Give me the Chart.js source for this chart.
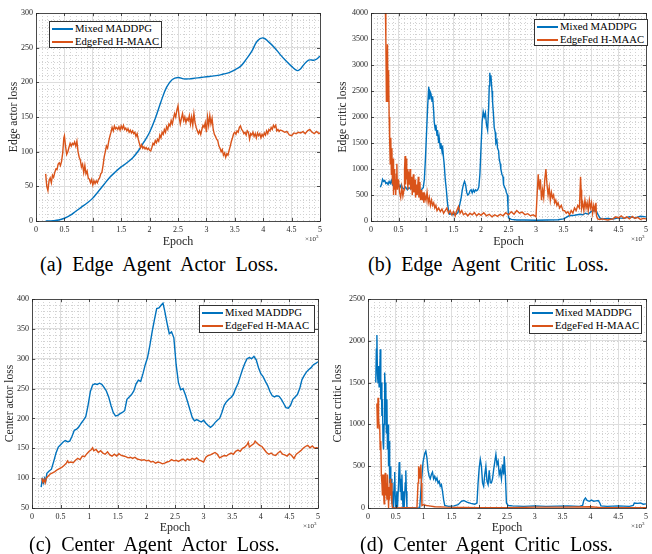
<!DOCTYPE html>
<html>
<head>
<meta charset="utf-8">
<script src="https://cdn.jsdelivr.net/npm/chart.js@4.4.1/dist/chart.umd.min.js"></script>
<style>
body { margin: 0; background: #fff; width: 652px; height: 554px; position: relative; overflow: hidden; font-family: "Liberation Serif", "DejaVu Serif", serif; }
canvas { position: absolute; }
.legend { position: absolute; background: #fff; border: 1px solid #333; font-family: "Liberation Serif", serif; font-size: 10.7px; color: #000; box-sizing: border-box; }
.legend div { height: 13px; line-height: 13px; white-space: nowrap; display: flex; align-items: center; }
.legend i { display: inline-block; width: 21px; height: 2px; margin: 0 2px 0 2px; }
.cap { position: absolute; font-family: "Liberation Serif", serif; font-size: 20px; line-height: 20px; word-spacing: 5px; white-space: nowrap; color: #000; }
</style>
</head>
<body>
<canvas id="chartA" width="326" height="250" style="left:0;top:0"></canvas>
<canvas id="chartB" width="326" height="250" style="left:326px;top:0"></canvas>
<canvas id="chartC" width="326" height="250" style="left:0;top:286px"></canvas>
<canvas id="chartD" width="326" height="250" style="left:326px;top:286px"></canvas>

<div class="legend" style="left:49px;top:21px;width:113px;height:27px">
  <div><i style="background:#0072BD"></i>Mixed MADDPG</div>
  <div><i style="background:#D95319"></i>EdgeFed H-MAAC</div>
</div>
<div class="legend" style="left:534px;top:19px;width:114px;height:27px">
  <div><i style="background:#0072BD"></i>Mixed MADDPG</div>
  <div><i style="background:#D95319"></i>EdgeFed H-MAAC</div>
</div>
<div class="legend" style="left:199px;top:305px;width:116px;height:28px">
  <div><i style="background:#0072BD"></i>Mixed MADDPG</div>
  <div><i style="background:#D95319"></i>EdgeFed H-MAAC</div>
</div>
<div class="legend" style="left:529px;top:305px;width:113px;height:29px">
  <div><i style="background:#0072BD"></i>Mixed MADDPG</div>
  <div><i style="background:#D95319"></i>EdgeFed H-MAAC</div>
</div>

<div class="cap" style="left:40px;top:254px">(a) Edge Agent Actor Loss.</div>
<div class="cap" style="left:368px;top:254px">(b) Edge Agent Critic Loss.</div>
<div class="cap" style="left:29px;top:534px">(c) Center Agent Actor Loss.</div>
<div class="cap" style="left:360px;top:534px">(d) Center Agent Critic Loss.</div>

<script>
const seriesNames = ['Mixed MADDPG', 'EdgeFed H-MAAC'];
const seriesColors = ['#0072BD', '#D95319'];

const epochTicks = [0, 0.5, 1, 1.5, 2, 2.5, 3, 3.5, 4, 4.5, 5];
const edgeActorTicks = [0, 50, 100, 150, 200, 250, 300];
const edgeCriticTicks = [0, 500, 1000, 1500, 2000, 2500, 3000, 3500, 4000];
const centerActorTicks = [50, 100, 150, 200, 250, 300, 350, 400];
const centerCriticTicks = [0, 500, 1000, 1500, 2000, 2500];

// epoch (x10^3), loss
const edgeActorMixed = [[0.17,0],[0.3,0.5],[0.4,1.5],[0.5,4],[0.6,8],[0.7,14],[0.8,20],[0.9,26],[1.0,33],[1.1,43],[1.2,53],[1.3,63],[1.4,71],[1.5,78],[1.6,84],[1.7,91],[1.8,101],[1.9,114],[2.0,128],[2.1,148],[2.2,172],[2.3,193],[2.4,204],[2.5,207],[2.6,205],[2.7,205],[2.8,206],[2.9,207],[3.0,208],[3.1,209],[3.2,210],[3.3,212],[3.4,214],[3.5,218],[3.6,223],[3.7,233],[3.8,245],[3.9,260],[4.0,264],[4.1,258],[4.2,250],[4.3,240],[4.4,231],[4.5,223],[4.6,217],[4.65,219],[4.7,224],[4.8,232],[4.9,232],[4.95,234],[5.0,238]];

const edgeActorFed = [[0.17,68],[0.19,50],[0.21,44],[0.23,58],[0.25,62],[0.27,55],[0.29,66],[0.31,63],[0.33,70],[0.35,75],[0.37,74],[0.39,82],[0.41,84],[0.43,80],[0.45,86],[0.47,98],[0.49,120],[0.5,123],[0.52,108],[0.54,96],[0.56,100],[0.58,106],[0.6,112],[0.62,108],[0.64,112],[0.66,110],[0.68,114],[0.7,108],[0.72,115],[0.74,100],[0.76,92],[0.78,88],[0.8,78],[0.82,82],[0.84,70],[0.86,80],[0.88,68],[0.9,72],[0.92,62],[0.94,60],[0.96,55],[0.98,60],[1.0,52],[1.02,58],[1.04,54],[1.06,58],[1.08,55],[1.1,60],[1.12,62],[1.14,68],[1.16,70],[1.18,80],[1.2,92],[1.22,100],[1.24,108],[1.26,105],[1.28,115],[1.3,122],[1.32,128],[1.34,135],[1.36,130],[1.38,137],[1.4,133],[1.42,135],[1.44,132],[1.46,136],[1.48,131],[1.5,137],[1.52,133],[1.54,138],[1.56,132],[1.58,134],[1.6,130],[1.62,133],[1.64,128],[1.66,131],[1.68,127],[1.7,130],[1.72,126],[1.74,128],[1.76,122],[1.78,126],[1.8,118],[1.82,112],[1.84,106],[1.86,110],[1.88,105],[1.9,107],[1.92,104],[1.94,106],[1.96,103],[1.98,105],[2.0,102],[2.02,101],[2.04,106],[2.06,112],[2.08,110],[2.1,116],[2.12,113],[2.14,118],[2.16,115],[2.18,124],[2.2,120],[2.22,128],[2.24,125],[2.26,132],[2.28,128],[2.3,136],[2.32,132],[2.34,140],[2.36,137],[2.38,145],[2.4,140],[2.42,148],[2.44,155],[2.46,150],[2.48,160],[2.5,166],[2.52,150],[2.54,140],[2.56,148],[2.58,155],[2.6,145],[2.62,150],[2.64,142],[2.66,148],[2.68,145],[2.7,152],[2.72,140],[2.74,150],[2.76,138],[2.78,155],[2.8,142],[2.82,135],[2.84,130],[2.86,126],[2.88,130],[2.9,125],[2.92,132],[2.94,138],[2.96,135],[2.98,142],[3.0,128],[3.02,150],[3.04,138],[3.06,152],[3.08,140],[3.1,148],[3.12,132],[3.14,125],[3.16,122],[3.18,118],[3.2,116],[3.22,108],[3.24,105],[3.26,100],[3.28,103],[3.3,95],[3.32,98],[3.34,92],[3.36,97],[3.38,95],[3.4,102],[3.42,108],[3.44,115],[3.46,120],[3.48,126],[3.5,128],[3.52,125],[3.54,130],[3.56,128],[3.58,135],[3.6,137],[3.62,132],[3.64,130],[3.66,126],[3.68,128],[3.7,124],[3.72,130],[3.74,128],[3.76,118],[3.78,126],[3.8,124],[3.82,128],[3.84,122],[3.86,126],[3.88,120],[3.9,127],[3.92,123],[3.94,126],[3.96,120],[3.98,125],[4.0,122],[4.02,127],[4.04,124],[4.06,130],[4.08,126],[4.1,132],[4.12,130],[4.14,135],[4.16,132],[4.18,138],[4.2,135],[4.22,138],[4.24,130],[4.26,132],[4.28,129],[4.3,131],[4.34,130],[4.38,128],[4.42,129],[4.46,124],[4.5,123],[4.54,127],[4.58,126],[4.62,128],[4.66,127],[4.7,129],[4.74,126],[4.78,130],[4.82,132],[4.86,128],[4.9,126],[4.94,129],[4.98,126],[5.0,127]];

const edgeCriticMixed = [[0.17,650],[0.19,700],[0.21,800],[0.23,760],[0.25,780],[0.27,720],[0.29,740],[0.31,700],[0.33,760],[0.35,720],[0.37,780],[0.39,700],[0.41,740],[0.43,690],[0.45,760],[0.47,700],[0.49,720],[0.51,680],[0.53,650],[0.55,700],[0.57,640],[0.6,620],[0.63,650],[0.66,600],[0.69,640],[0.72,620],[0.75,660],[0.78,600],[0.81,620],[0.84,580],[0.87,600],[0.9,560],[0.93,620],[0.95,640],[0.97,800],[0.99,1200],[1.01,1700],[1.03,2200],[1.05,2580],[1.06,2350],[1.07,2500],[1.09,2450],[1.11,2300],[1.12,2400],[1.14,2100],[1.15,1900],[1.17,1750],[1.18,1850],[1.2,1650],[1.21,1750],[1.23,1500],[1.24,1600],[1.26,1400],[1.27,1500],[1.29,1350],[1.3,1450],[1.32,1200],[1.33,1100],[1.35,800],[1.37,600],[1.39,350],[1.41,200],[1.43,130],[1.46,140],[1.49,120],[1.52,150],[1.55,130],[1.58,160],[1.6,250],[1.62,350],[1.64,450],[1.66,600],[1.68,700],[1.7,760],[1.72,700],[1.74,550],[1.76,500],[1.78,520],[1.8,580],[1.82,600],[1.84,540],[1.86,600],[1.88,560],[1.9,600],[1.92,580],[1.94,600],[1.96,650],[1.98,900],[2.0,1400],[2.02,1900],[2.04,2100],[2.06,2000],[2.08,2080],[2.1,1850],[2.12,1750],[2.14,2200],[2.15,2600],[2.16,2850],[2.17,2700],[2.18,2800],[2.2,2500],[2.21,2300],[2.23,2000],[2.24,1800],[2.26,1700],[2.27,1500],[2.29,1550],[2.3,1400],[2.32,1350],[2.33,1200],[2.35,1100],[2.36,1000],[2.38,900],[2.4,850],[2.41,700],[2.43,650],[2.45,600],[2.46,550],[2.48,500],[2.49,300],[2.5,60],[2.55,30],[2.65,20],[2.8,20],[3.0,15],[3.2,20],[3.4,25],[3.5,40],[3.55,70],[3.6,100],[3.7,110],[3.8,130],[3.85,120],[3.9,150],[3.95,130],[4.0,180],[4.05,200],[4.1,180],[4.13,120],[4.16,60],[4.2,40],[4.3,50],[4.4,40],[4.5,60],[4.6,50],[4.7,80],[4.8,60],[4.9,90],[5.0,80]];

const edgeCriticFed = [[0.26,4200],[0.27,3500],[0.28,2300],[0.29,2800],[0.3,3400],[0.31,2300],[0.32,2900],[0.33,2000],[0.34,1500],[0.35,1100],[0.36,1600],[0.37,900],[0.38,1400],[0.39,700],[0.4,1200],[0.41,500],[0.42,1000],[0.43,600],[0.44,800],[0.45,500],[0.46,900],[0.47,1100],[0.48,600],[0.5,800],[0.52,550],[0.54,450],[0.56,650],[0.58,480],[0.6,600],[0.61,1000],[0.62,1250],[0.63,700],[0.64,1200],[0.65,800],[0.66,1000],[0.67,600],[0.68,950],[0.7,700],[0.71,1000],[0.72,600],[0.74,850],[0.75,500],[0.77,900],[0.78,550],[0.8,800],[0.81,450],[0.83,700],[0.84,500],[0.86,850],[0.87,450],[0.89,750],[0.9,400],[0.92,600],[0.93,400],[0.95,550],[0.96,350],[0.98,500],[1.0,400],[1.02,550],[1.04,350],[1.06,450],[1.08,300],[1.1,400],[1.12,300],[1.14,350],[1.16,250],[1.18,300],[1.2,200],[1.23,250],[1.26,180],[1.29,230],[1.32,150],[1.35,200],[1.38,250],[1.41,150],[1.44,200],[1.47,120],[1.5,180],[1.53,100],[1.56,200],[1.59,280],[1.62,150],[1.65,200],[1.68,120],[1.72,150],[1.76,100],[1.8,150],[1.84,120],[1.88,160],[1.92,100],[1.96,140],[2.0,110],[2.05,160],[2.1,100],[2.15,130],[2.2,80],[2.25,120],[2.3,90],[2.35,130],[2.4,100],[2.45,160],[2.5,120],[2.55,180],[2.6,130],[2.65,200],[2.7,150],[2.75,170],[2.8,120],[2.85,140],[2.9,100],[2.95,120],[3.0,80],[3.02,500],[3.04,900],[3.06,600],[3.08,800],[3.1,400],[3.12,600],[3.14,450],[3.16,800],[3.18,1000],[3.2,700],[3.22,500],[3.24,650],[3.26,400],[3.28,550],[3.3,450],[3.32,500],[3.34,350],[3.36,400],[3.38,300],[3.4,350],[3.43,250],[3.46,300],[3.49,200],[3.52,200],[3.55,150],[3.58,180],[3.61,120],[3.64,200],[3.67,150],[3.7,250],[3.73,200],[3.76,300],[3.79,250],[3.81,850],[3.82,600],[3.83,250],[3.85,350],[3.87,200],[3.89,400],[3.91,250],[3.93,350],[3.95,200],[3.97,400],[3.99,250],[4.01,350],[4.03,150],[4.05,300],[4.07,200],[4.09,350],[4.1,100],[4.12,40],[4.16,30],[4.2,40],[4.3,20],[4.4,40],[4.45,80],[4.5,60],[4.55,100],[4.6,50],[4.65,80],[4.7,40],[4.75,90],[4.8,50],[4.85,70],[4.9,30],[4.95,50],[5.0,40]];

const centerActorMixed = [[0.16,85],[0.18,98],[0.2,92],[0.22,100],[0.24,95],[0.26,108],[0.3,112],[0.34,115],[0.38,128],[0.42,142],[0.46,152],[0.5,156],[0.54,160],[0.58,163],[0.62,161],[0.66,162],[0.7,170],[0.74,180],[0.78,182],[0.82,186],[0.86,192],[0.9,197],[0.94,203],[0.98,222],[1.02,245],[1.06,256],[1.1,258],[1.14,257],[1.18,259],[1.22,257],[1.26,252],[1.3,246],[1.34,236],[1.38,222],[1.42,210],[1.46,204],[1.5,205],[1.54,208],[1.58,210],[1.62,213],[1.66,232],[1.7,236],[1.74,240],[1.78,246],[1.82,258],[1.86,264],[1.9,262],[1.94,275],[1.98,290],[2.02,302],[2.06,322],[2.1,345],[2.14,365],[2.18,384],[2.22,385],[2.26,390],[2.29,393],[2.32,380],[2.36,360],[2.4,342],[2.44,345],[2.48,335],[2.52,290],[2.56,260],[2.6,248],[2.64,250],[2.68,240],[2.72,228],[2.76,215],[2.8,202],[2.84,196],[2.88,198],[2.92,196],[2.96,194],[3.0,197],[3.04,192],[3.08,188],[3.12,185],[3.16,188],[3.2,193],[3.24,197],[3.28,200],[3.32,210],[3.36,222],[3.4,228],[3.44,232],[3.48,235],[3.52,240],[3.56,250],[3.6,258],[3.64,270],[3.68,282],[3.72,292],[3.76,300],[3.8,302],[3.84,300],[3.88,304],[3.92,298],[3.96,285],[4.0,275],[4.04,270],[4.08,262],[4.12,255],[4.16,245],[4.2,238],[4.24,236],[4.28,238],[4.32,237],[4.36,232],[4.4,225],[4.44,218],[4.48,217],[4.52,222],[4.56,232],[4.6,236],[4.64,240],[4.68,250],[4.72,265],[4.76,272],[4.8,278],[4.84,282],[4.88,285],[4.92,290],[4.96,292],[5.0,295]];

const centerActorFed = [[0.17,100],[0.19,93],[0.21,98],[0.23,92],[0.25,100],[0.28,103],[0.32,107],[0.36,109],[0.4,111],[0.44,114],[0.48,116],[0.52,118],[0.56,121],[0.6,125],[0.62,129],[0.64,126],[0.68,127],[0.72,126],[0.76,130],[0.8,133],[0.84,131],[0.88,137],[0.92,136],[0.96,141],[1.0,145],[1.04,148],[1.06,151],[1.08,146],[1.12,148],[1.16,143],[1.2,146],[1.24,142],[1.28,140],[1.32,144],[1.36,139],[1.4,137],[1.44,140],[1.48,137],[1.52,141],[1.56,138],[1.6,137],[1.64,136],[1.68,134],[1.72,135],[1.76,133],[1.8,135],[1.84,132],[1.88,131],[1.92,130],[1.96,131],[2.0,129],[2.04,130],[2.08,127],[2.12,128],[2.16,125],[2.2,127],[2.24,126],[2.28,124],[2.32,125],[2.36,127],[2.4,128],[2.44,131],[2.48,129],[2.52,130],[2.56,128],[2.6,130],[2.64,132],[2.68,129],[2.72,132],[2.76,130],[2.8,133],[2.84,131],[2.88,134],[2.92,130],[2.96,129],[3.0,127],[3.04,135],[3.08,138],[3.12,139],[3.16,141],[3.2,143],[3.24,140],[3.28,134],[3.32,136],[3.36,138],[3.4,137],[3.44,140],[3.48,142],[3.52,140],[3.56,145],[3.6,147],[3.64,145],[3.68,150],[3.72,152],[3.76,156],[3.78,160],[3.8,152],[3.84,155],[3.88,158],[3.9,162],[3.94,158],[3.98,155],[4.02,153],[4.06,148],[4.1,143],[4.14,140],[4.18,142],[4.22,139],[4.26,138],[4.3,142],[4.34,145],[4.38,140],[4.42,139],[4.46,137],[4.5,141],[4.54,138],[4.58,133],[4.62,140],[4.66,143],[4.7,146],[4.74,150],[4.78,153],[4.82,155],[4.86,151],[4.9,154],[4.94,150],[4.98,151],[5.0,150]];

const centerCriticMixed = [[0.14,1500],[0.15,1900],[0.16,2070],[0.17,1600],[0.18,1500],[0.19,1700],[0.2,1450],[0.21,1550],[0.22,1900],[0.23,1300],[0.24,1500],[0.25,1100],[0.26,1300],[0.27,800],[0.28,700],[0.29,1000],[0.3,1620],[0.31,1400],[0.32,1500],[0.33,900],[0.34,1300],[0.35,700],[0.36,1000],[0.37,500],[0.38,800],[0.39,300],[0.4,500],[0.41,150],[0.42,350],[0.43,50],[0.44,200],[0.45,0],[0.46,100],[0.47,300],[0.48,430],[0.49,100],[0.5,0],[0.52,200],[0.53,0],[0.55,300],[0.56,540],[0.57,550],[0.58,200],[0.59,350],[0.6,100],[0.61,400],[0.62,150],[0.63,0],[0.64,200],[0.65,0],[0.67,300],[0.68,450],[0.69,200],[0.7,0],[0.75,0],[0.85,0],[0.93,0],[0.96,300],[0.99,550],[1.02,650],[1.04,680],[1.06,600],[1.08,450],[1.1,380],[1.12,350],[1.14,400],[1.16,430],[1.18,350],[1.2,380],[1.22,330],[1.24,360],[1.26,300],[1.28,320],[1.3,260],[1.32,280],[1.34,200],[1.36,100],[1.38,30],[1.45,20],[1.55,25],[1.62,40],[1.68,80],[1.72,90],[1.78,70],[1.85,55],[1.92,45],[1.96,60],[1.98,300],[2.0,480],[2.02,580],[2.04,500],[2.06,300],[2.08,260],[2.1,400],[2.12,500],[2.14,320],[2.16,280],[2.18,450],[2.2,300],[2.22,300],[2.24,350],[2.26,460],[2.28,550],[2.3,640],[2.32,520],[2.34,560],[2.36,400],[2.38,450],[2.4,350],[2.42,520],[2.44,400],[2.45,620],[2.47,400],[2.49,60],[2.52,30],[2.6,25],[2.8,20],[3.0,25],[3.2,20],[3.4,22],[3.6,25],[3.8,20],[3.86,30],[3.88,90],[3.91,120],[3.94,90],[3.98,80],[4.02,95],[4.06,80],[4.1,85],[4.14,90],[4.17,60],[4.19,25],[4.3,20],[4.5,25],[4.7,20],[4.77,30],[4.79,60],[4.85,55],[4.9,60],[4.95,45],[5.0,50]];

const centerCriticFed = [[0.15,1200],[0.16,1250],[0.17,950],[0.18,1320],[0.19,1100],[0.2,950],[0.21,1000],[0.22,700],[0.23,800],[0.24,400],[0.25,300],[0.26,150],[0.27,400],[0.28,200],[0.29,50],[0.3,350],[0.31,420],[0.32,150],[0.33,300],[0.34,100],[0.35,400],[0.36,200],[0.37,0],[0.38,250],[0.39,100],[0.4,350],[0.41,150],[0.42,300],[0.43,50],[0.44,0],[0.46,0],[0.5,0],[0.7,5],[0.88,0],[0.9,300],[0.91,500],[0.92,400],[0.93,350],[0.94,480],[0.95,520],[0.96,300],[0.97,30],[1.0,40],[1.05,30],[1.1,25],[1.2,15],[1.4,10],[2.0,5],[2.5,5],[3.0,10],[3.5,10],[4.0,15],[4.2,5],[4.5,5],[5.0,5]];

const axisColor = '#262626';
const serif = '"Liberation Serif", "DejaVu Serif", serif';

// MATLAB look: dotted minor grid, box, inner ticks, x10^3 note
const matlabBox = {
  id: 'matlabBox',
  beforeDraw(chart, args, o) {
    const { ctx, chartArea: a, scales: { x, y } } = chart;
    ctx.save();
    ctx.strokeStyle = '#d2d2d2';
    ctx.lineWidth = 1;
    ctx.setLineDash([1, 2]);
    ctx.beginPath();
    let n = Math.round((x.max - x.min) / o.xMinor);
    for (let i = 0; i <= n; i++) {
      const px = Math.round(x.getPixelForValue(x.min + i * o.xMinor)) + 0.5;
      ctx.moveTo(px, a.top); ctx.lineTo(px, a.bottom);
    }
    n = Math.round((y.max - y.min) / o.yMinor);
    for (let i = 0; i <= n; i++) {
      const py = Math.round(y.getPixelForValue(y.min + i * o.yMinor)) + 0.5;
      ctx.moveTo(a.left, py); ctx.lineTo(a.right, py);
    }
    ctx.stroke();
    ctx.restore();
  },
  afterDraw(chart) {
    const { ctx, chartArea: a, scales: { x, y } } = chart;
    ctx.save();
    ctx.strokeStyle = axisColor;
    ctx.lineWidth = 0.8;
    ctx.strokeRect(Math.round(a.left) + 0.5, Math.round(a.top) + 0.5, Math.round(a.right - a.left), Math.round(a.bottom - a.top));
    ctx.beginPath();
    x.ticks.forEach(t => {
      const px = Math.round(x.getPixelForValue(t.value)) + 0.5;
      ctx.moveTo(px, a.bottom); ctx.lineTo(px, a.bottom - 3);
      ctx.moveTo(px, a.top); ctx.lineTo(px, a.top + 3);
    });
    y.ticks.forEach(t => {
      const py = Math.round(y.getPixelForValue(t.value)) + 0.5;
      ctx.moveTo(a.left, py); ctx.lineTo(a.left + 3, py);
      ctx.moveTo(a.right, py); ctx.lineTo(a.right - 3, py);
    });
    ctx.stroke();
    ctx.fillStyle = axisColor;
    ctx.textBaseline = 'alphabetic';
    ctx.textAlign = 'left';
    ctx.font = '7px ' + serif;
    const w = ctx.measureText('\u00d710').width;
    ctx.fillText('\u00d710', a.right - w - 4, a.bottom + 20);
    ctx.font = '5px ' + serif;
    ctx.fillText('3', a.right - 4, a.bottom + 17);
    ctx.restore();
  }
};

function makeChart(id, s) {
  const ctx = document.getElementById(id).getContext('2d');
  return new Chart(ctx, {
    type: 'line',
    data: {
      datasets: [
        { label: seriesNames[0], data: s.mixed, borderColor: seriesColors[0], borderWidth: 1.4, pointRadius: 0, tension: s.smooth ? 0.4 : 0, order: 1 },
        { label: seriesNames[1], data: s.fed, borderColor: seriesColors[1], borderWidth: 1.4, pointRadius: 0, tension: 0, order: 0 }
      ]
    },
    options: {
      responsive: false,
      animation: false,
      devicePixelRatio: 1,
      layout: { padding: { top: s.padTop, right: s.padRight, left: 0, bottom: 0 } },
      plugins: {
        legend: { display: false },
        tooltip: { enabled: false },
        matlabBox: { xMinor: 0.1, yMinor: s.yMinor }
      },
      scales: {
        x: {
          type: 'linear', min: 0, max: 5,
          afterBuildTicks: sc => { sc.ticks = epochTicks.map(v => ({ value: v })); },
          afterFit: sc => { sc.height = s.xH; },
          ticks: { autoSkip: false, maxRotation: 0, padding: 4, color: axisColor, font: { family: serif, size: 8 }, callback: v => String(v) },
          grid: { color: '#dedede', lineWidth: 1, drawTicks: false },
          border: { display: false },
          title: { display: true, text: 'Epoch', color: axisColor, font: { family: serif, size: 12 }, padding: { top: 0, bottom: 1 } }
        },
        y: {
          type: 'linear', min: s.ticks[0], max: s.ticks[s.ticks.length - 1],
          afterBuildTicks: sc => { sc.ticks = s.ticks.map(v => ({ value: v })); },
          afterFit: sc => { sc.width = s.yW; },
          ticks: { autoSkip: false, padding: 3, color: axisColor, font: { family: serif, size: 8 }, callback: v => String(v) },
          grid: { color: '#dedede', lineWidth: 1, drawTicks: false },
          border: { display: false },
          title: { display: true, text: s.yTitle, color: axisColor, font: { family: serif, size: 11.5 }, padding: { top: s.yTitlePad, bottom: 0 } }
        }
      }
    },
    plugins: [matlabBox]
  });
}

makeChart('chartA', { mixed: edgeActorMixed, fed: edgeActorFed, smooth: true, ticks: edgeActorTicks, yMinor: 10, yW: 36, xH: 29, padTop: 13, padRight: 4, yTitle: 'Edge actor loss', yTitlePad: 7 });
makeChart('chartB', { mixed: edgeCriticMixed, fed: edgeCriticFed, ticks: edgeCriticTicks, yMinor: 100, yW: 45, xH: 29, padTop: 13, padRight: 1, yTitle: 'Edge critic loss', yTitlePad: 10 });
makeChart('chartC', { mixed: centerActorMixed, fed: centerActorFed, ticks: centerActorTicks, yMinor: 10, yW: 32, xH: 28, padTop: 13, padRight: 8, yTitle: 'Center actor loss', yTitlePad: 3 });
makeChart('chartD', { mixed: centerCriticMixed, fed: centerCriticFed, ticks: centerCriticTicks, yMinor: 100, yW: 42, xH: 28, padTop: 13, padRight: 4, yTitle: 'Center critic loss', yTitlePad: 5 });
</script>
</body>
</html>
